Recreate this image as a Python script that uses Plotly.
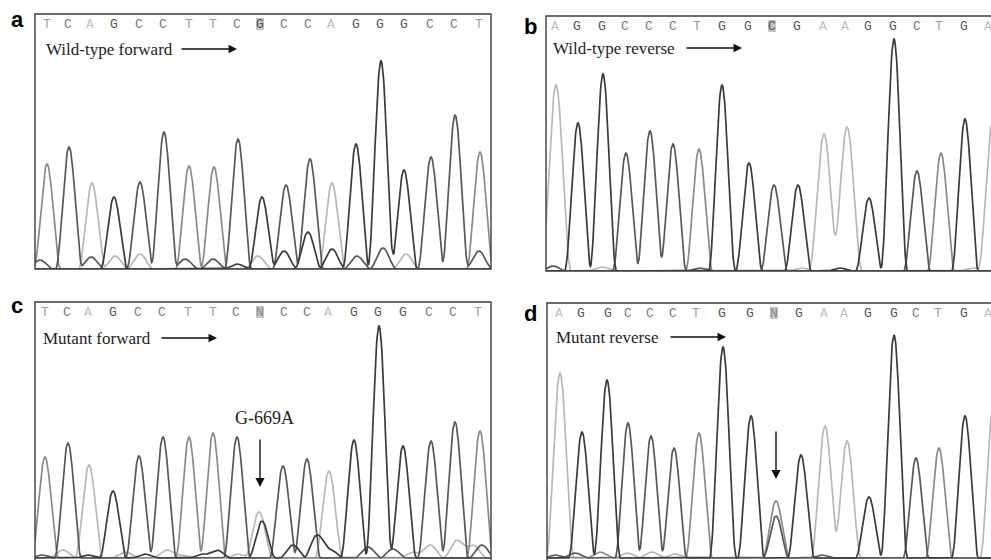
import numpy as np
import plotly.graph_objects as go

# ---------------- data (scan position along trace, signal height) ----------------
# Panel a : wild-type forward
a_calls = list("TCAGCCTTCGCCAGGGCCT")
a_call_pos = [12, 33, 55, 79, 104, 128, 154, 178, 202, 225, 249, 273, 296, 321, 345, 369, 395, 419, 444]
a_peak_base = list("TCAGCCTTCGCCAGGGCCT")
a_peak_pos = [12, 34, 57, 79, 105, 129, 154, 179, 203, 227, 251, 275, 297, 321, 346, 369, 396, 420, 445]
a_peak_h = [105, 122, 86, 72, 87, 137, 103, 102, 130, 72, 84, 110, 86, 125, 208, 99, 112, 151, 117]
a_minor_base = list("CCAACCGAGGGCCACC")
a_minor_pos = [5, 56, 80, 105, 150, 178, 202, 223, 249, 273, 297, 322, 348, 371, 425, 444]
a_minor_h = [9, 12, 13, 15, 10, 10, 5, 13, 18, 37, 20, 13, 21, 15, 4, 18]

# Panel b : wild-type reverse
b_calls = list("AGGCCCTGGCGAAGGCTGA")
b_call_pos = [9, 31, 56, 79, 103, 127, 151, 176, 202, 226, 251, 277, 299, 322, 347, 371, 393, 418, 442]
b_peak_base = list("AGGCCCTGGCGAAGGCTGA")
b_peak_pos = [10, 32, 57, 80, 104, 127, 153, 176, 203, 228, 252, 278, 301, 323, 348, 371, 395, 419, 447]
b_peak_h = [186, 148, 197, 118, 140, 127, 122, 186, 108, 86, 86, 137, 144, 73, 232, 100, 118, 152, 152]
b_minor_base = list("CACAGA")
b_minor_pos = [7, 56, 154, 256, 294, 427]
b_minor_h = [5, 4, 3, 3, 3, 3]

# Panel c : mutant forward
c_calls = list("TCAGCCTTCNCCAGGGCCT")
c_call_pos = [10, 32, 53, 78, 103, 127, 153, 178, 201, 225, 249, 272, 293, 319, 343, 368, 394, 418, 443]
c_peak_base = list("TCAGCCTTCGACCAGGGCCT")
c_peak_pos = [10, 33, 54, 78, 104, 128, 154, 178, 202, 227, 224, 248, 272, 294, 319, 344, 368, 396, 420, 445]
c_peak_h = [101, 115, 93, 67, 102, 121, 121, 125, 121, 37, 46, 92, 99, 87, 118, 232, 112, 117, 136, 127]
c_minor_base = list("CAGAGAAGGAGGGCCAAAAC")
c_minor_pos = [7, 28, 53, 90, 110, 132, 147, 167, 182, 203, 258, 282, 295, 333, 358, 378, 395, 422, 438, 447]
c_minor_h = [3, 8, 3, 6, 4, 8, 3, 4, 8, 4, 13, 23, 9, 11, 9, 6, 13, 18, 13, 13]

# Panel d : mutant reverse
d_calls = list("AGGCCCTGGNGAAGGCTGA")
d_call_pos = [12, 34, 61, 81, 103, 126, 149, 175, 203, 227, 252, 277, 297, 321, 347, 369, 391, 417, 441]
d_peak_base = list("AGGCCCTGGCTGAAGGCTGA")
d_peak_pos = [13, 35, 60, 81, 104, 127, 152, 176, 204, 229, 229, 254, 278, 300, 322, 347, 369, 392, 418, 447]
d_peak_h = [185, 126, 178, 135, 122, 110, 125, 211, 142, 42, 57, 103, 132, 117, 61, 223, 100, 110, 142, 160]
d_minor_base = list("CCTAAAC")
d_minor_pos = [8, 28, 53, 80, 105, 128, 275]
d_minor_h = [3, 5, 6, 5, 6, 4, 3]

panel_labels = ["a", "b", "c", "d"]
read_titles = ["Wild-type forward", "Wild-type reverse", "Mutant forward", "Mutant reverse"]
mutation_label = "G-669A"
highlight_index = 9

# ---------------- styling ----------------
W, H = 991, 560
trace_color = {"A": "#b8b8b8", "T": "#8a8a8a", "C": "#585858", "G": "#3a3a3a"}
letter_color = {"A": "#c0c0c0", "T": "#9c9c9c", "C": "#7a7a7a", "G": "#555555", "N": "#8a8a8a"}
channel_order = ["A", "T", "C", "G"]

# frame boxes in pixels: left, top, right, bottom (right/bottom may run past the page)
frames = [(35, 14, 491, 269), (546, 16, 1010, 271), (35, 302, 491, 575), (547, 303, 1010, 575)]
baselines = [269, 271, 558, 558]
# half-width of a peak (pixels) per channel
half_widths = [
    {"A": 13.5, "T": 13.5, "C": 13.5, "G": 13.5},
    {"A": 15.0, "T": 13.5, "C": 13.5, "G": 13.5},
    {"A": 14.0, "T": 13.5, "C": 13.5, "G": 13.5},
    {"A": 14.0, "T": 13.5, "C": 13.0, "G": 13.5},
]

panels = [
    (a_calls, a_call_pos, a_peak_base, a_peak_pos, a_peak_h, a_minor_base, a_minor_pos, a_minor_h),
    (b_calls, b_call_pos, b_peak_base, b_peak_pos, b_peak_h, b_minor_base, b_minor_pos, b_minor_h),
    (c_calls, c_call_pos, c_peak_base, c_peak_pos, c_peak_h, c_minor_base, c_minor_pos, c_minor_h),
    (d_calls, d_call_pos, d_peak_base, d_peak_pos, d_peak_h, d_minor_base, d_minor_pos, d_minor_h),
]


def px(x):
    return x / W


def py(y):
    return 1 - y / H


fig = go.Figure()
layout = dict(
    width=W, height=H, margin=dict(l=0, r=0, t=0, b=0),
    paper_bgcolor="white", plot_bgcolor="white", showlegend=False,
)
shapes = []
annotations = []

for i, (calls, call_pos, pb, pp, ph, mb, mp, mh) in enumerate(panels):
    L, T, R, B = frames[i]
    vis_r = min(R, W)
    vis_b = min(B, H)
    xr = [0, vis_r - L]
    yr = [-(vis_b - baselines[i]), baselines[i] - T]
    n = "" if i == 0 else str(i + 1)
    layout["xaxis" + n] = dict(domain=[px(L), px(vis_r)], range=xr, visible=False,
                               anchor="y" + n, fixedrange=True)
    layout["yaxis" + n] = dict(domain=[py(vis_b), py(T)], range=yr, visible=False,
                               anchor="x" + n, fixedrange=True)
    xs = np.arange(xr[0], xr[1] + 0.25, 0.5)
    bases_all = list(pb) + list(mb)
    pos_all = list(pp) + list(mp)
    h_all = list(ph) + list(mh)
    for ch in channel_order:
        w = half_widths[i][ch]
        y = np.zeros_like(xs)
        for b, p, h in zip(bases_all, pos_all, h_all):
            if b == ch:
                d = np.abs(xs - p)
                y += np.where(d < w, h * np.cos(np.pi * d / (2 * w)) ** 2, 0.0)
        fig.add_trace(go.Scatter(x=xs, y=y, mode="lines", xaxis="x" + n, yaxis="y" + n,
                                 line=dict(color=trace_color[ch], width=1.7),
                                 hoverinfo="skip"))
    # frame
    shapes.append(dict(type="rect", xref="paper", yref="paper",
                       x0=px(L), x1=px(R), y0=py(B), y1=py(T),
                       line=dict(color="#3c3c3c", width=1.4), fillcolor="rgba(0,0,0,0)", layer="above"))
    # highlighted call
    span = vis_b - T
    hp = call_pos[highlight_index]
    shapes.append(dict(type="rect", xref="x" + n, yref="y" + n + " domain",
                       x0=hp - 4, x1=hp + 4, y0=1 - 16 / span, y1=1 - 4 / span,
                       line=dict(width=0), fillcolor="#c4c4c4", layer="below"))
    # base calls
    for k, (b, p) in enumerate(zip(calls, call_pos)):
        col = letter_color[b]
        if k == highlight_index:
            col = "#555555" if b != "N" else "#8a8a8a"
        annotations.append(dict(x=p, y=1, xref="x" + n, yref="y" + n + " domain",
                                text=b, showarrow=False, yanchor="middle", xanchor="center",
                                yshift=-10,
                                font=dict(family="Liberation Mono", size=13, color=col)))
    # panel letter
    lab_xy = [(17, 20), (530, 26), (17, 306), (530, 313)][i]
    annotations.append(dict(x=px(lab_xy[0]), y=py(lab_xy[1]), xref="paper", yref="paper",
                            text="<b>%s</b>" % panel_labels[i], showarrow=False,
                            xanchor="center", yanchor="middle",
                            font=dict(family="Liberation Sans", size=22, color="black")))
    # read title + arrow
    tx, ty, ax0, ax1 = [(44, 49, 180, 237), (551, 48, 685, 742),
                        (41, 338, 160, 217), (554, 337, 669, 726)][i]
    annotations.append(dict(x=px(tx), y=py(ty), xref="paper", yref="paper",
                            text=read_titles[i], showarrow=False,
                            xanchor="left", yanchor="middle",
                            font=dict(family="Liberation Serif", size=17, color="#1e1e1e")))
    annotations.append(dict(x=px(ax1), y=py(ty), xref="paper", yref="paper", text="",
                            showarrow=True, ax=-(ax1 - ax0), ay=0, arrowhead=2,
                            arrowsize=1.3, arrowwidth=1.3, arrowcolor="#111111", standoff=0))

# mutation label and arrows
annotations.append(dict(x=px(264), y=py(418), xref="paper", yref="paper",
                        text=mutation_label, showarrow=False, xanchor="center", yanchor="middle",
                        font=dict(family="Liberation Serif", size=18, color="#1e1e1e")))
annotations.append(dict(x=px(260), y=py(487), xref="paper", yref="paper", text="",
                        showarrow=True, ax=0, ay=-49, arrowhead=2, arrowsize=1.3,
                        arrowwidth=1.4, arrowcolor="#111111", standoff=0))
annotations.append(dict(x=px(776), y=py(479), xref="paper", yref="paper", text="",
                        showarrow=True, ax=0, ay=-49, arrowhead=2, arrowsize=1.3,
                        arrowwidth=1.4, arrowcolor="#111111", standoff=0))

layout["shapes"] = shapes
layout["annotations"] = annotations
fig.update_layout(**layout)
fig.write_html("out.html", config={"displayModeBar": False},
               post_script="document.body.style.margin='0';document.body.style.overflow='hidden';")
